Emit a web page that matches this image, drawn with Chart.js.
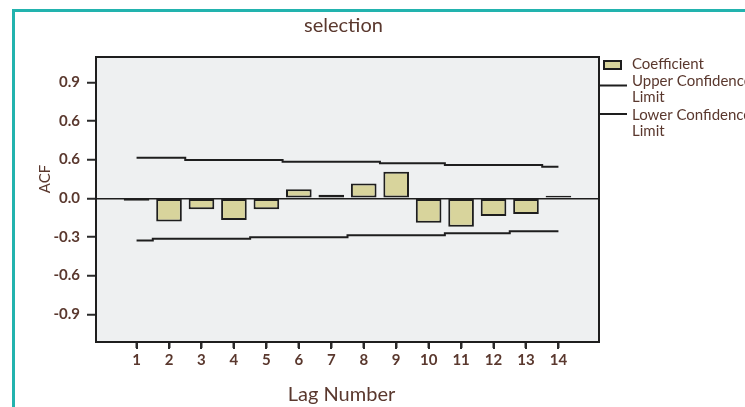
<!DOCTYPE html>
<html>
<head>
<meta charset="utf-8">
<title>selection</title>
<script src="https://cdn.jsdelivr.net/npm/chart.js@4.4.1/dist/chart.umd.min.js"></script>
<style>
  html, body { margin: 0; padding: 0; background: #ffffff; }
  #wrap { position: relative; width: 745px; height: 407px; }
  canvas { display: block; }
</style>
</head>
<body>
<div id="wrap"><canvas id="acf" width="745" height="407"></canvas></div>
<script>
// Autocorrelation of "selection" by lag
const chartTitle = 'selection';
const xTitle = 'Lag Number';
const yTitle = 'ACF';

const lags = [1, 2, 3, 4, 5, 6, 7, 8, 9, 10, 11, 12, 13, 14];
const xTickLabels = ['1', '2', '3', '4', '5', '6', '7', '8', '9', '10', '11', '12', '13', '14'];

const coefficient = [-0.019, -0.180, -0.085, -0.168, -0.085, 0.070, 0.028, 0.115, 0.206, -0.190, -0.220, -0.137, -0.122, 0.020];
const upperLimit  = [0.315, 0.315, 0.297, 0.297, 0.297, 0.284, 0.284, 0.284, 0.271, 0.271, 0.258, 0.258, 0.258, 0.245];
const lowerLimit  = [-0.327, -0.314, -0.314, -0.314, -0.302, -0.302, -0.302, -0.286, -0.286, -0.286, -0.271, -0.271, -0.256, -0.256];

const yTickValues = [-0.9, -0.6, -0.3, 0.0, 0.3, 0.6, 0.9];
const yTickLabels = ['-0.9', '-0.6', '-0.3', '0.0', '0.6', '0.6', '0.9'];

const legendLines = [
  ['Coefficient'],
  ['Upper Confidence', 'Limit'],
  ['Lower Confidence', 'Limit']
];

const BROWN = '#5a382e';
const INK = '#1e1e1e';
const BAR_FILL = '#d8d49c';
const PLOT_BG = '#eef0f1';
const TEAL = '#22b3ae';
const FONT = 'Lato, "Open Sans", "DejaVu Sans", sans-serif';

// Background of the plotting area, frames, tick marks, titles and the side legend
const decor = {
  id: 'decor',
  beforeDraw(chart) {
    const { ctx, chartArea: a } = chart;
    ctx.save();
    ctx.fillStyle = PLOT_BG;
    ctx.fillRect(a.left, a.top, a.right - a.left, a.bottom - a.top);
    ctx.restore();
  },
  afterDraw(chart) {
    const { ctx, chartArea: a } = chart;
    const xs = chart.scales.x;
    ctx.save();

    // plot frame
    ctx.strokeStyle = INK;
    ctx.lineWidth = 2;
    ctx.strokeRect(a.left, a.top, a.right - a.left, a.bottom - a.top);

    // lag tick marks below the frame
    ctx.fillStyle = '#2a2a2a';
    lags.forEach(v => {
      const px = Math.round(xs.getPixelForValue(v));
      ctx.fillRect(px - 1, a.bottom + 1, 2, 6);
    });

    // page frame
    ctx.strokeStyle = TEAL;
    ctx.lineWidth = 3;
    ctx.beginPath();
    ctx.moveTo(13.5, chart.height);
    ctx.lineTo(13.5, 10.5);
    ctx.lineTo(chart.width, 10.5);
    ctx.stroke();

    // chart title
    ctx.fillStyle = BROWN;
    ctx.textAlign = 'center';
    ctx.textBaseline = 'alphabetic';
    ctx.font = '20px ' + FONT;
    ctx.fillText(chartTitle, (a.left + a.right) / 2 - 4, 31.5);

    // x axis title
    ctx.font = '20px ' + FONT;
    ctx.fillText(xTitle, (a.left + a.right) / 2 - 6, 401);

    // y axis title
    ctx.save();
    ctx.translate(50, 179);
    ctx.rotate(-Math.PI / 2);
    ctx.font = '15px ' + FONT;
    ctx.fillText(yTitle, 0, 0);
    ctx.restore();

    // legend
    const lx = a.right;
    ctx.fillStyle = BAR_FILL;
    ctx.fillRect(lx + 5, 61, 17, 8);
    ctx.strokeStyle = INK;
    ctx.lineWidth = 2;
    ctx.strokeRect(lx + 5, 61, 17, 8);

    ctx.lineWidth = 2;
    ctx.beginPath();
    ctx.moveTo(lx, 85.5); ctx.lineTo(lx + 28, 85.5);
    ctx.moveTo(lx, 114); ctx.lineTo(lx + 28, 114);
    ctx.stroke();

    ctx.fillStyle = BROWN;
    ctx.textAlign = 'left';
    ctx.font = '15px ' + FONT;
    const baselines = [[68.5], [85.5, 102], [119.5, 136]];
    legendLines.forEach((lines, i) => {
      lines.forEach((t, j) => ctx.fillText(t, lx + 33, baselines[i][j]));
    });

    ctx.restore();
  }
};

function build() {
  const ctx = document.getElementById('acf').getContext('2d');
  new Chart(ctx, {
    data: {
      datasets: [
        {
          type: 'bar',
          label: 'Coefficient',
          data: lags.map((x, i) => ({ x, y: coefficient[i] })),
          backgroundColor: BAR_FILL,
          borderColor: INK,
          borderWidth: 2,
          borderSkipped: false,
          categoryPercentage: 1.0,
          barPercentage: 0.79,
          order: 2
        },
        {
          type: 'line',
          label: 'Upper Confidence Limit',
          data: lags.map((x, i) => ({ x, y: upperLimit[i] })),
          borderColor: INK,
          borderWidth: 2,
          stepped: 'middle',
          pointRadius: 0,
          fill: false,
          order: 1
        },
        {
          type: 'line',
          label: 'Lower Confidence Limit',
          data: lags.map((x, i) => ({ x, y: lowerLimit[i] })),
          borderColor: INK,
          borderWidth: 2,
          stepped: 'middle',
          pointRadius: 0,
          fill: false,
          order: 1
        }
      ]
    },
    options: {
      responsive: false,
      devicePixelRatio: 1,
      animation: false,
      layout: { padding: { left: 0, top: 57, right: 146, bottom: 0 } },
      plugins: {
        legend: { display: false },
        title: { display: false },
        tooltip: { enabled: false }
      },
      scales: {
        x: {
          type: 'linear',
          min: -0.25,
          max: 15.25,
          offset: false,
          afterBuildTicks(scale) {
            scale.ticks = lags.map(v => ({ value: v }));
          },
          afterFit(scale) { scale.height = 65; },
          ticks: {
            autoSkip: false,
            maxRotation: 0,
            padding: 3,
            color: BROWN,
            font: { family: FONT, size: 15, weight: 'bold' },
            callback: (value, index) => xTickLabels[index]
          },
          grid: {
            offset: false,
            drawOnChartArea: false,
            drawTicks: true,
            tickLength: 6,
            tickWidth: 2,
            tickColor: '#2a2a2a'
          },
          border: { display: false }
        },
        y: {
          type: 'linear',
          min: -1.115,
          max: 1.096,
          afterBuildTicks(scale) {
            scale.ticks = yTickValues.map(v => ({ value: v }));
          },
          afterFit(scale) { scale.width = 96; },
          ticks: {
            autoSkip: false,
            padding: 7,
            color: BROWN,
            font: { family: FONT, size: 15, weight: 'bold' },
            callback: (value, index) => yTickLabels[index]
          },
          grid: {
            drawOnChartArea: true,
            drawTicks: true,
            tickLength: 9,
            tickWidth: 2,
            tickColor: '#2a2a2a',
            lineWidth: 1.5,
            color: c => (c.tick && c.tick.value === 0) ? INK : 'rgba(0,0,0,0)'
          },
          border: { display: false }
        }
      }
    },
    plugins: [decor]
  });
}

if (document.fonts && document.fonts.load) {
  Promise.all([
    document.fonts.load('bold 15px Lato'),
    document.fonts.load('20px Lato'),
    document.fonts.load('15px Lato')
  ]).then(build, build);
} else {
  build();
}
</script>
</body>
</html>
